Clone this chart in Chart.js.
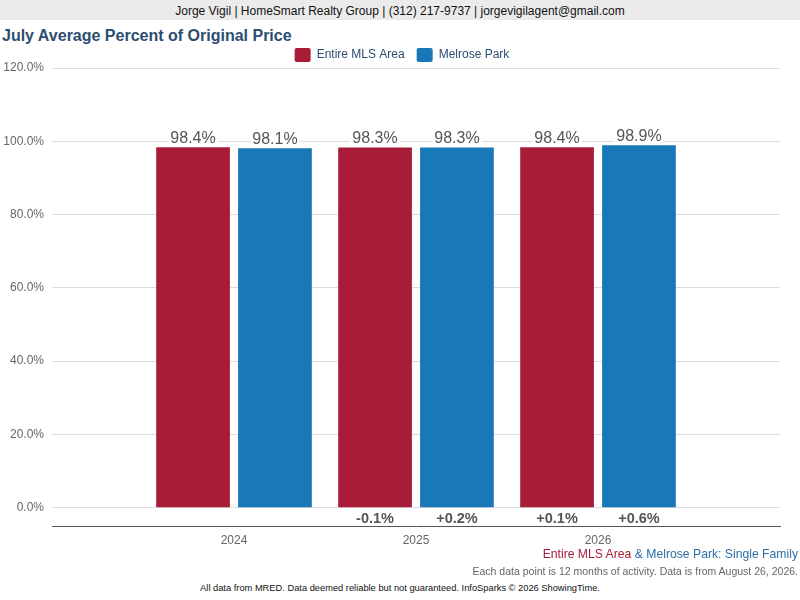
<!DOCTYPE html>
<html>
<head>
<meta charset="utf-8">
<script src="https://cdn.jsdelivr.net/npm/chart.js@4"></script>
<style>
  body { margin: 0; width: 800px; height: 600px; position: relative; background: #fff; font-family: "Liberation Sans", Arial, sans-serif; overflow: hidden; }
  #header { position: absolute; left: 0; top: 0; width: 800px; height: 20px; background: #ebebeb; color: #111; font-size: 12px; line-height: 22px; text-align: center; }
  #title { position: absolute; left: 2px; top: 27px; font-size: 16px; font-weight: bold; color: #2c4d72; }
  #wrap { position: absolute; left: 0; top: 35px; width: 800px; height: 515px; }
  .foot { position: absolute; right: 2px; white-space: nowrap; }
  #series { top: 547px; font-size: 12.2px; color: #2b6ea8; }
  #series .red { color: #a81c37; }
  #note { top: 565px; font-size: 10.5px; color: #666; }
  #credit { position: absolute; left: 0; width: 800px; top: 583px; text-align: center; font-size: 9.3px; color: #111; }
</style>
</head>
<body>
<div id="header">Jorge Vigil | HomeSmart Realty Group | (312) 217-9737 | jorgevigilagent@gmail.com</div>
<div id="title">July Average Percent of Original Price</div>
<div id="wrap"><canvas id="chart"></canvas></div>
<div class="foot" id="series"><span class="red">Entire MLS Area</span> &amp; Melrose Park: Single Family</div>
<div class="foot" id="note">Each data point is 12 months of activity. Data is from August 26, 2026.</div>
<div id="credit">All data from MRED. Data deemed reliable but not guaranteed. InfoSparks © 2026 ShowingTime.</div>
<script>
// empty slots at both ends keep the years centred like the original
const years = ["", "2024", "2025", "2026", ""];
const mlsArea = [null, 98.4, 98.3, 98.4, null];
const melrosePark = [null, 98.1, 98.3, 98.9, null];
const mlsChange = ["", "", "-0.1%", "+0.1%", ""];
const melroseChange = ["", "", "+0.2%", "+0.6%", ""];
const yTicks = [0, 20, 40, 60, 80, 100, 120];

const RED = "#a81c37";
const BLUE = "#1878b8";

// fixed legend height so the plot top lines up with the original,
// and the legend centred on the whole page instead of the padded area
const legendPlace = {
  id: "legendPlace",
  beforeInit(chart) {
    const fit = chart.legend.fit;
    chart.legend.fit = function () {
      fit.call(this);
      this.height = 33;
    };
  },
  afterLayout(chart) {
    const lg = chart.legend;
    lg.left += 12;
    lg.right += 12;
    lg.top += 1;
  }
};

const barLabels = {
  id: "barLabels",
  afterDatasetsDraw(chart) {
    const ctx = chart.ctx;
    const y0 = chart.scales.y.getPixelForValue(0);
    const changes = [mlsChange, melroseChange];
    ctx.save();
    ctx.textAlign = "center";
    ctx.textBaseline = "middle";
    chart.data.datasets.forEach((ds, di) => {
      chart.getDatasetMeta(di).data.forEach((bar, i) => {
        if (ds.data[i] == null) return;
        const txt = ds.data[i].toFixed(1) + "%";
        ctx.font = "16px 'Liberation Sans', Arial, sans-serif";
        const w = ctx.measureText(txt).width;
        ctx.fillStyle = "#fff";
        ctx.fillRect(bar.x - w / 2 - 2, bar.y - 19, w + 4, 17);
        ctx.fillStyle = "#555";
        ctx.fillText(txt, bar.x, bar.y - 9);
        if (changes[di][i]) {
          ctx.font = "bold 14.5px 'Liberation Sans', Arial, sans-serif";
          ctx.fillText(changes[di][i], bar.x, y0 + 11);
        }
      });
    });
    ctx.restore();
  }
};

new Chart(document.getElementById("chart").getContext("2d"), {
  type: "bar",
  data: {
    labels: years,
    datasets: [
      { label: "Entire MLS Area", data: mlsArea, backgroundColor: RED, categoryPercentage: 0.9, barPercentage: 0.9 },
      { label: "Melrose Park", data: melrosePark, backgroundColor: BLUE, categoryPercentage: 0.9, barPercentage: 0.9 }
    ]
  },
  options: {
    responsive: true,
    maintainAspectRatio: false,
    animation: false,
    layout: { padding: { left: 0, right: 20, top: 0, bottom: 0 } },
    plugins: {
      legend: {
        position: "top",
        labels: {
          boxWidth: 16,
          boxHeight: 14,
          padding: 12,
          color: "#2c4d72",
          font: { family: "'Liberation Sans', Arial, sans-serif", size: 12 },
          useBorderRadius: true,
          borderRadius: 2
        }
      },
      tooltip: { enabled: false }
    },
    scales: {
      x: {
        offset: false,
        grid: { display: false, drawTicks: false },
        border: { color: "#555", width: 1 },
        ticks: { color: "#666", padding: 7, font: { family: "'Liberation Sans', Arial, sans-serif", size: 12 } },
        afterFit(s) { s.height = 24; }
      },
      y: {
        min: -5,
        max: 120,
        afterBuildTicks(s) { s.ticks = [-5].concat(yTicks).map(v => ({ value: v })); },
        grid: {
          drawTicks: false,
          color: c => (c.tick && c.tick.value < 0 ? "rgba(0,0,0,0)" : "#dcdcdc")
        },
        border: { display: false },
        ticks: {
          padding: 8,
          color: "#666",
          font: { family: "'Liberation Sans', Arial, sans-serif", size: 12 },
          callback: v => (v < 0 ? "" : v.toFixed(1) + "%")
        },
        afterFit(s) { s.width = 52; }
      }
    }
  },
  plugins: [legendPlace, barLabels]
});
</script>
</body>
</html>
